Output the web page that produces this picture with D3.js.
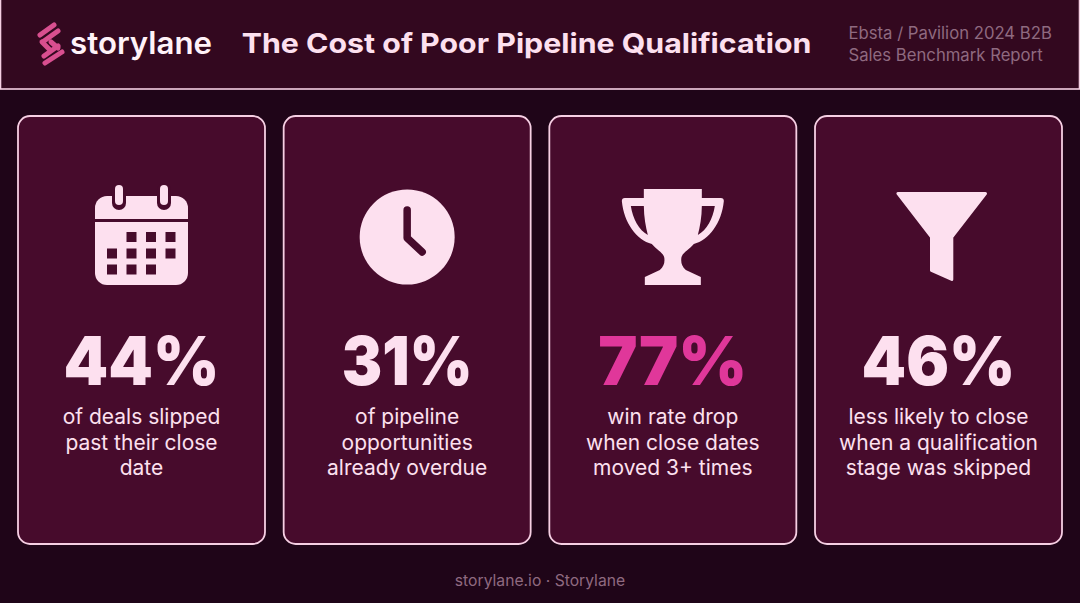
<!DOCTYPE html>
<html>
<head>
<meta charset="utf-8">
<script src="https://cdn.jsdelivr.net/npm/d3@7"></script>
<style>
html, body { margin: 0; padding: 0; background: #1f0518; }
svg { display: block; }
</style>
</head>
<body>
<svg id="chart" width="1080" height="603"></svg>
<script>
const cards = ["deals", "pipeline", "winrate", "stage"];
const values = ["44%", "31%", "77%", "46%"];
const valueWidths = [156, 131, 149, 154];
const highlighted = ["winrate"];
const captions = [
    ["of deals slipped", "past their close", "date"],
    ["of pipeline", "opportunities", "already overdue"],
    ["win rate drop", "when close dates", "moved 3+ times"],
    ["less likely to close", "when a qualification", "stage was skipped"]
];
const icons = ["calendar", "clock", "trophy", "funnel"];
const title = "The Cost of Poor Pipeline Qualification";
const sourceLines = ["Ebsta / Pavilion 2024 B2B", "Sales Benchmark Report"];
const footer = "storylane.io · Storylane";

const pale = "#fde0ef", dark = "#470b2c", pink = "#e0379a";

let svg = d3.select("#chart");

// Stretch a text to the width it has in the reference, the font there is wider than Inter
function fitWidth(text, cx, y, width) {
    let len = text.node().getComputedTextLength();
    text.attr("transform", `translate(${cx},${y}) scale(${width / len},1)`);
}

// Header band
svg.append("rect").attr("x", 0.5).attr("y", -2).attr("width", 1079).attr("height", 91)
    .attr("fill", "#33081f").attr("stroke", "#f6cfe3").attr("stroke-width", 1.6);

// Logo mark
let logo = svg.append("g").attr("stroke", "#d84f8f").attr("stroke-width", 5).attr("stroke-linecap", "round");
[[40, 35, 54, 25], [44, 41, 58, 31], [42, 42, 49, 49], [51, 42, 58, 48], [44, 56, 58, 46], [45, 63, 62, 52]].forEach(s => {
    logo.append("line").attr("x1", s[0]).attr("y1", s[1]).attr("x2", s[2]).attr("y2", s[3]);
});

let logoText = svg.append("text").attr("fill", "#fff2f8").attr("text-anchor", "middle")
    .style("font", "600 31px Inter").text("storylane");
fitWidth(logoText, 141, 54, 142);

let titleText = svg.append("text").attr("fill", "#fde0ef").attr("text-anchor", "middle")
    .style("font", "700 27.5px Inter").text(title);
fitWidth(titleText, 526.5, 53, 570);

svg.selectAll(".source").data(sourceLines).enter().append("text").attr("class", "source")
    .attr("x", 848.5).attr("y", (d, i) => 39 + i * 21.5).attr("fill", "#8f6a80")
    .style("font", "400 16.7px Inter").text(d => d);

// Cards
let x = d3.scaleBand().domain(cards).range([18, 1062]).paddingInner(0.0703);

let card = svg.selectAll(".card").data(cards).enter().append("g")
    .attr("class", "card")
    .attr("transform", d => `translate(${x(d)},0)`);

card.append("rect").attr("y", 116).attr("width", x.bandwidth()).attr("height", 428).attr("rx", 12)
    .attr("fill", dark).attr("stroke", "#f6cfe3").attr("stroke-width", 1.8);

card.append("text").attr("text-anchor", "middle")
    .attr("fill", d => highlighted.includes(d) ? pink : pale)
    .style("font", "900 67px Inter")
    .text((d, i) => values[i])
    .each(function(d, i) { fitWidth(d3.select(this), x.bandwidth() / 2, 385, valueWidths[i]); });

card.each(function(d, i) {
    d3.select(this).selectAll(".caption").data(captions[i]).enter().append("text")
        .attr("class", "caption")
        .attr("x", x.bandwidth() / 2).attr("y", (c, j) => 424 + j * 25.5).attr("text-anchor", "middle")
        .attr("fill", "#fde0ef").style("font", "400 21px Inter").text(c => c);
});

// Icons, drawn in card-centred coordinates with origin at the icon middle
let icon = card.append("g").attr("transform", `translate(${x.bandwidth() / 2},237)`).attr("fill", pale);

let drawIcon = {
    calendar(g) {
        g.append("path").attr("d", "M-46.5,-18 V-29 a12,12 0 0 1 12,-12 H34.5 a12,12 0 0 1 12,12 V-18 Z");
        g.append("path").attr("d", "M-46.5,-15 H46.5 V36 a12,12 0 0 1 -12,12 H-34.5 a12,12 0 0 1 -12,-12 Z");
        [-22.5, 22.5].forEach(rx => {
            g.append("rect").attr("x", rx - 7).attr("y", -54).attr("width", 14).attr("height", 27).attr("rx", 7).attr("fill", dark);
            g.append("rect").attr("x", rx - 4).attr("y", -52).attr("width", 8).attr("height", 20).attr("rx", 4);
        });
        let cols = [-34.5, -15, 4.5, 24], rows = [-5, 11.5, 27.5];
        [[1, 2, 3], [0, 1, 2, 3], [0, 1, 2]].forEach((r, j) => r.forEach(c => {
            g.append("rect").attr("x", cols[c]).attr("y", rows[j]).attr("width", 10).attr("height", 10).attr("fill", dark);
        }));
    },
    clock(g) {
        g.append("circle").attr("r", 47.5);
        g.append("path").attr("d", "M0,-27 V1 L15,15").attr("fill", "none").attr("stroke", dark)
            .attr("stroke-width", 7.5).attr("stroke-linecap", "round").attr("stroke-linejoin", "round");
    },
    trophy(g) {
        g.append("path").attr("d", "M-29,-48 H29 V-39 H48 Q51,-39 51,-36 C49,-14 36,3 21,7 C16,13 9,16 8.5,21 C8,26 9,29 13,33 L28,40 V48 H-28 V40 L-13,33 C-9,29 -8,26 -8.5,21 C-9,16 -16,13 -21,7 C-36,3 -49,-14 -51,-36 Q-51,-39 -48,-39 H-29 Z");
        g.append("path").attr("fill", dark).attr("d", "M-42,-31 H-29 C-29,-20 -27,-10 -25,-2 C-34,-7 -40,-18 -42,-31 Z");
        g.append("path").attr("fill", dark).attr("d", "M42,-31 H29 C29,-20 27,-10 25,-2 C34,-7 40,-18 42,-31 Z");
    },
    funnel(g) {
        g.append("path").attr("d", "M-40.5,-43.5 H47 L13.3,0 V42.5 L-7,33.5 V0 Z")
            .attr("stroke", pale).attr("stroke-width", 3).attr("stroke-linejoin", "round");
    }
};
icon.each(function(d, i) { drawIcon[icons[i]](d3.select(this)); });

svg.append("text").attr("x", 540).attr("y", 586).attr("text-anchor", "middle").attr("fill", "#8f6a80")
    .style("font", "400 15.7px Inter").text(footer);
</script>
</body>
</html>
